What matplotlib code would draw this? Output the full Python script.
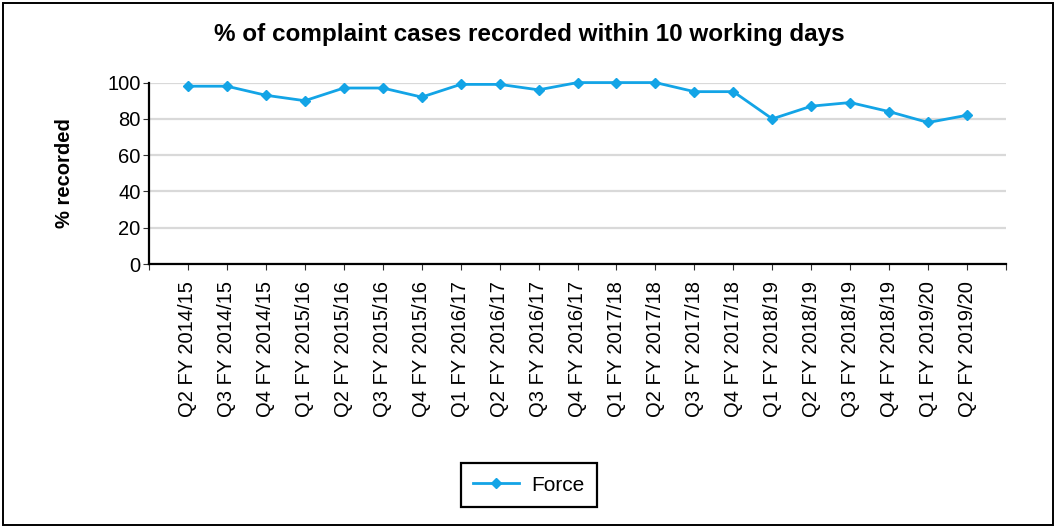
import matplotlib.pyplot as plt
import matplotlib.patches as patches

plt.rcParams['font.family'] = ['Liberation Sans', 'DejaVu Sans']

# quarters and % of complaint cases recorded within 10 working days
quarters = ['Q2 FY 2014/15', 'Q3 FY 2014/15', 'Q4 FY 2014/15',
            'Q1 FY 2015/16', 'Q2 FY 2015/16', 'Q3 FY 2015/16', 'Q4 FY 2015/16',
            'Q1 FY 2016/17', 'Q2 FY 2016/17', 'Q3 FY 2016/17', 'Q4 FY 2016/17',
            'Q1 FY 2017/18', 'Q2 FY 2017/18', 'Q3 FY 2017/18', 'Q4 FY 2017/18',
            'Q1 FY 2018/19', 'Q2 FY 2018/19', 'Q3 FY 2018/19', 'Q4 FY 2018/19',
            'Q1 FY 2019/20', 'Q2 FY 2019/20']
force = [98, 98, 93, 90, 97, 97, 92, 99, 99, 96, 100, 100, 100, 95, 95,
         80, 87, 89, 84, 78, 82]
yticks = [0, 20, 40, 60, 80, 100]

fig = plt.figure(figsize=(10.56, 5.29), dpi=100)
ax = fig.add_axes([0.1411, 0.5009, 0.8116, 0.343])

x = list(range(len(quarters)))
ax.plot(x, force, color='#13a4e6', linewidth=2.0, marker='D', markersize=5.5,
        label='Force', zorder=3, clip_on=False)

ax.set_xlim(-1, len(quarters))
ax.set_ylim(0, 100)
ax.set_yticks(yticks)
ax.set_yticklabels([str(v) for v in yticks], fontsize=14.5)
ax.set_xticks(range(-1, len(quarters) + 1))
ax.set_xticklabels([''] + quarters + [''], rotation=90, fontsize=14.5)
ax.tick_params(axis='both', direction='out', length=4, width=0.8, color='#333333')
ax.tick_params(axis='x', pad=8)
ax.tick_params(axis='y', pad=2)

ax.grid(axis='y', color='#d9d9d9', linewidth=1.6, zorder=0)
ax.set_axisbelow(True)
for s in ['top', 'right']:
    ax.spines[s].set_visible(False)
for s in ['left', 'bottom']:
    ax.spines[s].set_linewidth(1.6)
    ax.spines[s].set_color('black')

ax.set_ylabel('% recorded', fontsize=14.5, fontweight='bold', labelpad=24)
fig.text(0.501, 0.935, '% of complaint cases recorded within 10 working days',
         ha='center', va='center', fontsize=17.5, fontweight='bold')

leg = fig.legend(loc='center', bbox_to_anchor=(0.501, 0.083), fontsize=15,
                 frameon=True, fancybox=False, framealpha=1, borderpad=0.6,
                 borderaxespad=0, handlelength=2.2, handletextpad=0.6)
leg.get_frame().set_edgecolor('black')
leg.get_frame().set_linewidth(1.6)

border = patches.Rectangle((0.003, 0.008), 0.994, 0.986, transform=fig.transFigure,
                           fill=False, edgecolor='black', linewidth=1.4)
fig.patches.append(border)

fig.savefig('out.png', dpi=100)
